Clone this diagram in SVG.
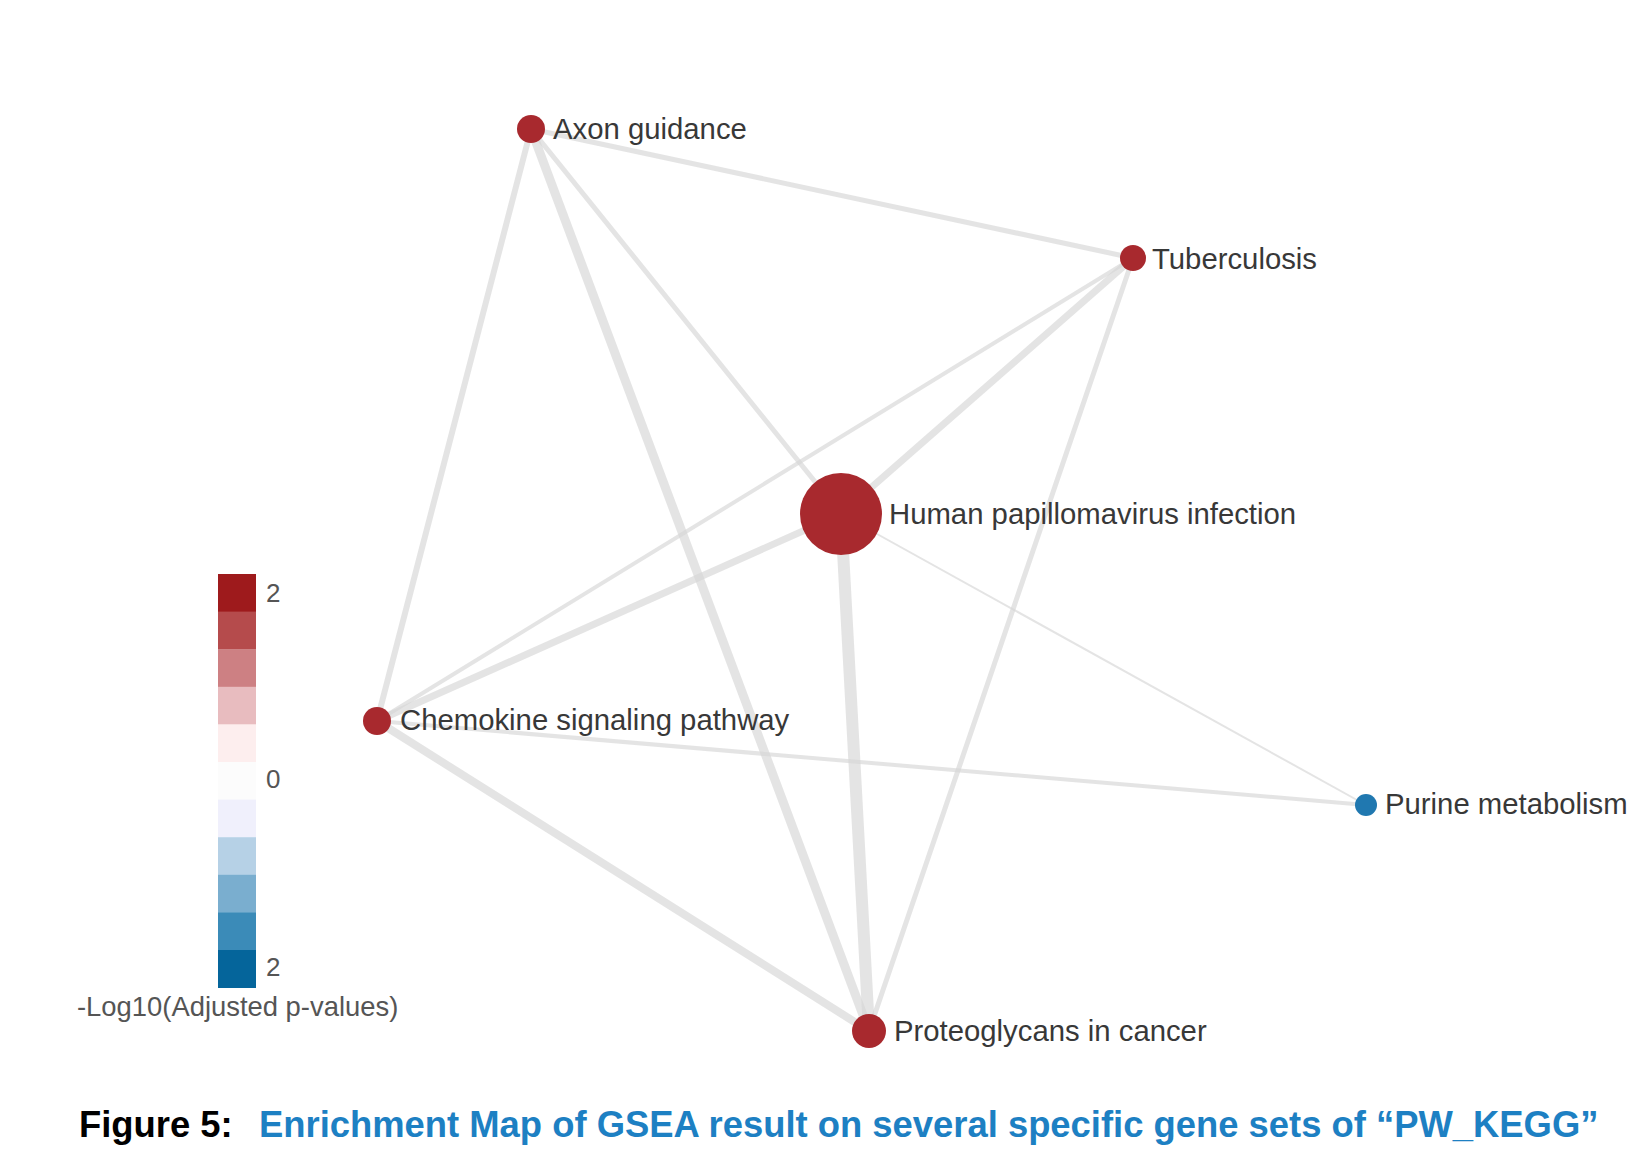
<svg xmlns="http://www.w3.org/2000/svg" width="1644" height="1176" viewBox="0 0 1644 1176">
<style>
.e{stroke:#d6d6d6;stroke-opacity:0.65;stroke-linecap:round;fill:none}
.n{fill:#a8292e}
.lbl{font-family:"Liberation Sans",Arial,sans-serif;font-size:29.3px;fill:#383838}
.leg{font-family:"Liberation Sans",Arial,sans-serif;font-size:26px;fill:#555}
.cap{font-family:"Liberation Sans",Arial,sans-serif;font-size:36.4px;font-weight:bold}
</style>
<rect width="1644" height="1176" fill="#fff"/>
<g id="connectors">
<line class="e" x1="531" y1="129" x2="1133" y2="258" stroke-width="5"/>
<line class="e" x1="531" y1="129" x2="377" y2="721" stroke-width="6"/>
<line class="e" x1="531" y1="129" x2="869" y2="1031" stroke-width="9"/>
<line class="e" x1="531" y1="129" x2="841" y2="514" stroke-width="5"/>
<line class="e" x1="1133" y1="258" x2="377" y2="721" stroke-width="4"/>
<line class="e" x1="1133" y1="258" x2="841" y2="514" stroke-width="7"/>
<line class="e" x1="1133" y1="258" x2="869" y2="1031" stroke-width="5"/>
<line class="e" x1="841" y1="514" x2="377" y2="721" stroke-width="7"/>
<line class="e" x1="841" y1="514" x2="869" y2="1031" stroke-width="12"/>
<line class="e" x1="841" y1="514" x2="1366" y2="805" stroke-width="2"/>
<line class="e" x1="377" y1="721" x2="1366" y2="805" stroke-width="4"/>
<line class="e" x1="377" y1="721" x2="869" y2="1031" stroke-width="8"/>
</g>
<g id="node-axon"><circle class="n" cx="531" cy="129" r="14"/><text class="lbl" x="553" y="139">Axon guidance</text></g>
<g id="node-tuberculosis"><circle class="n" cx="1133" cy="258" r="13"/><text class="lbl" x="1152" y="269">Tuberculosis</text></g>
<g id="node-hpv"><circle class="n" cx="841" cy="514" r="41"/><text class="lbl" x="889" y="524">Human papillomavirus infection</text></g>
<g id="node-chemokine"><circle class="n" cx="377" cy="721" r="14"/><text class="lbl" x="400" y="730">Chemokine signaling pathway</text></g>
<g id="node-purine"><circle cx="1366" cy="805" r="11" fill="#2078b0"/><text class="lbl" x="1385" y="814">Purine metabolism</text></g>
<g id="node-proteoglycans"><circle class="n" cx="869" cy="1031" r="17"/><text class="lbl" x="894" y="1041">Proteoglycans in cancer</text></g>
<g id="legend">
<rect x="218" y="574" width="38" height="38" fill="#9e1a1c"/>
<rect x="218" y="611.6" width="38" height="38" fill="#b54b4c"/>
<rect x="218" y="649.2" width="38" height="38" fill="#cd8083"/>
<rect x="218" y="686.8" width="38" height="38" fill="#e8bcbf"/>
<rect x="218" y="724.4" width="38" height="38" fill="#fdeeee"/>
<rect x="218" y="762" width="38" height="38" fill="#fcfcfc"/>
<rect x="218" y="799.6" width="38" height="38" fill="#f0f0fc"/>
<rect x="218" y="837.2" width="38" height="38" fill="#b6d1e6"/>
<rect x="218" y="874.8" width="38" height="38" fill="#7aaecf"/>
<rect x="218" y="912.4" width="38" height="38" fill="#3b8bb8"/>
<rect x="218" y="950" width="38" height="38" fill="#05659b"/>
<text class="leg" x="266" y="602">2</text>
<text class="leg" x="266" y="788">0</text>
<text class="leg" x="266" y="976">2</text>
<text class="leg" x="77" y="1016" style="font-size:27.4px">-Log10(Adjusted p-values)</text>
</g>
<g id="caption">
<text class="cap" x="79" y="1137" fill="#000">Figure 5:</text>
<text class="cap" x="259" y="1137" fill="#1d80c3">Enrichment Map of GSEA result on several specific gene sets of “PW_KEGG”</text>
</g>
</svg>
